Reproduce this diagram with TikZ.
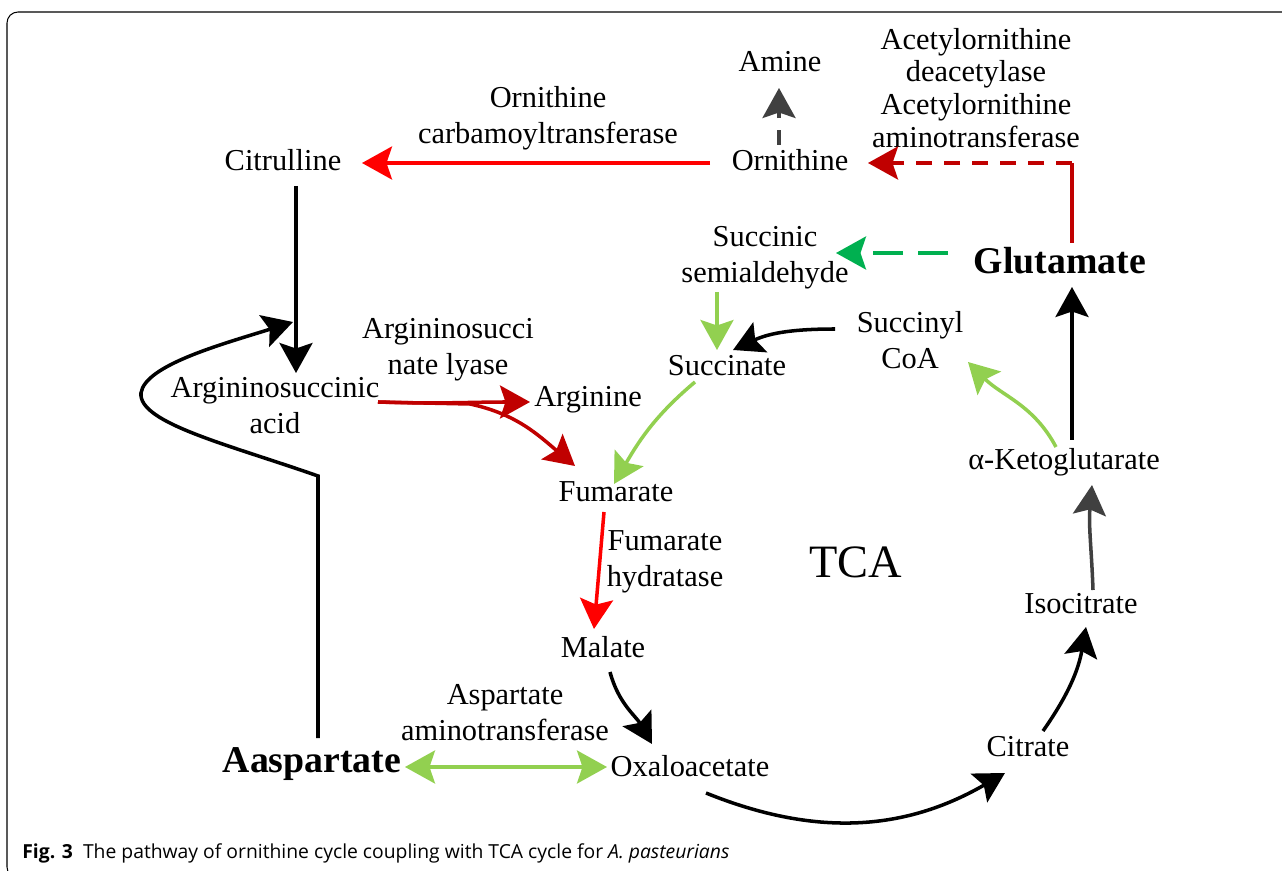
\documentclass[tikz,border=0pt]{standalone}
\usepackage{fontspec}
\setmainfont{Liberation Serif}
\newfontfamily\capfont{Open Sans}
\usetikzlibrary{arrows.meta,calc}
\definecolor{redA}{HTML}{FF0000}
\definecolor{redB}{HTML}{C00000}
\definecolor{greenA}{HTML}{00B050}
\definecolor{greenB}{HTML}{92D050}
\definecolor{grayA}{HTML}{404040}

\begin{document}
\begin{tikzpicture}[x=0.02cm,y=0.02cm]
% Estilos
\tikzset{met/.style={font=\fontsize{17.3}{20.4}\selectfont,align=center,inner sep=0pt},
  key met/.style={font=\bfseries\fontsize{21.5}{24}\selectfont,inner sep=0pt},
  tip/.tip={Stealth[length=0.6cm,width=0.66cm,inset=0.11cm]},
  flow/.style={line width=2pt,-tip},
  red flow/.style={flow,draw=redA},
  dkred flow/.style={flow,draw=redB},
  green flow/.style={flow,draw=greenB},
  gray flow/.style={flow,draw=grayA}}

\useasboundingbox (0,0) rectangle (1282,-871);
\clip (0,0) rectangle (1282,-871);
\draw[line width=0.6pt,rounded corners=0.22cm] (1300,-12) -- (7,-12) -- (7,-878) -- (40,-878);

% Metabolitos
\node[met] (amine) at (780,-62) {Amine};
\node[met] (orn) at (790,-160) {Ornithine};
\node[met] (cit) at (283,-160) {Citrulline};
\node[met] (oct) at (548,-118) {Ornithine\\carbamoyltransferase};
\node[met,font=\fontsize{17.3}{18.7}\selectfont] (acet) at (976,-88) {Acetylornithine\\deacetylase\\Acetylornithine\\aminotransferase};
\node[met] (ssa) at (765,-258) {Succinic\\semialdehyde};
\node[key met] (glu) at (1060,-261) {Glutamate};
\node[met] (suc) at (727,-366) {Succinate};
\node[met] (sco) at (910,-340) {Succinyl\\CoA};
\node[met] (ako) at (1064,-462) {α-Ketoglutarate};
\node[met] (iso) at (1081,-604) {Isocitrate};
\node[met] (citr) at (1028,-747) {Citrate};
\node[met] (oxa) at (690,-766) {Oxaloacetate};
\node[met] (mal) at (603,-647) {Malate};
\node[met] (fum) at (616,-492) {Fumarate};
\node[met] (fhy) at (665,-562) {Fumarate\\hydratase};
\node[met,font=\fontsize{26.4}{30}\selectfont] (tca) at (856,-562) {TCA};
\node[met] (asa) at (275,-406) {Argininosuccinic\\acid};
\node[met] (arg) at (588,-400) {Arginine};
\node[met] (asl) at (448,-350) {Argininosucci\\nate lyase};
\node[key met] (asp) at (312,-764) {Aaspartate};
\node[met] (aat) at (505,-713) {Aspartate\\aminotransferase};

% Ciclo de la ornitina
\draw[red flow] ($(orn)+(-80,-3)$) -- ($(cit)+(79,-3)$);
\draw[dkred flow,-] ($(glu)+(12,18)$) -- ++(0,80) coordinate (gcorner);
\draw[dkred flow,dash pattern=on 0.32cm off 0.24cm] (gcorner) -- ($(orn)+(78,-3)$);
\draw[gray flow,dash pattern=on 0.3cm off 0.24cm] ($(orn)+(-11,15)$) -- ($(amine)+(-1,-26)$);
\draw[flow] ($(cit)+(13,-26)$) -- ($(asa)+(21,33)$);
\draw[dkred flow] ($(asa)+(103,4)$) to[out=-2,in=180] ($(arg)+(-58,-2)$);
\draw[dkred flow] ($(asa)+(103,4)$) -- ($(asa)+(195,2)$) to[out=-12,in=140] ($(fum)+(-41,26)$);
\draw[flow] ($(asp)+(6,26)$) -- ++(0,262) .. controls +(-88,31) and +(-3,-30) .. ++(-177,83)
  .. controls +(4,28) and +(-70,-22) .. ($(asa)+(18,84)$);
\draw[green flow,tip-tip] ($(asp)+(93,-3)$) -- ($(oxa)+(-83,-1)$);

% Ciclo TCA
\draw[green flow,draw=greenA,dash pattern=on 0.6cm off 0.3cm] ($(glu)+(-112,8)$) -- ($(ssa)+(71,5)$);
\draw[green flow] ($(ssa)+(-48,-34)$) -- ($(suc)+(-10,16)$);
\draw[flow] ($(sco)+(-75,11)$) to[out=180,in=25] ($(suc)+(6,16)$);
\draw[green flow] ($(ako)+(-8,15)$) to[out=118,in=-45] ($(sco)+(58,-22)$);
\draw[flow] ($(ako)+(8,22)$) -- ($(glu)+(12,-26)$);
\draw[gray flow] ($(iso)+(12,14)$) to[out=92,in=-95] ($(ako)+(28,-23)$);
\draw[flow] ($(citr)+(15,16)$) to[out=55,in=-100] ($(iso)+(5,-23)$);
\draw[flow] ($(oxa)+(16,-27)$) to[out=-22,in=-150] ($(citr)+(-23,-26)$);
\draw[flow] ($(mal)+(7,-25)$) to[out=-75,in=120] ($(oxa)+(-38,22)$);
\draw[red flow] ($(fum)+(-12,-20)$) -- ($(mal)+(-9,18)$);
\draw[green flow] ($(suc)+(-32,-16)$) to[out=-140,in=60] ($(fum)+(-2,8)$);

\node[anchor=west,inner sep=0pt,font=\capfont\fontsize{11}{13}\selectfont] (cap) at (22,-853)
  {\textbf{Fig. 3}\hspace{0.2cm}The pathway of ornithine cycle coupling with TCA cycle for \textit{A. pasteurians}};
\end{tikzpicture}
\end{document}
